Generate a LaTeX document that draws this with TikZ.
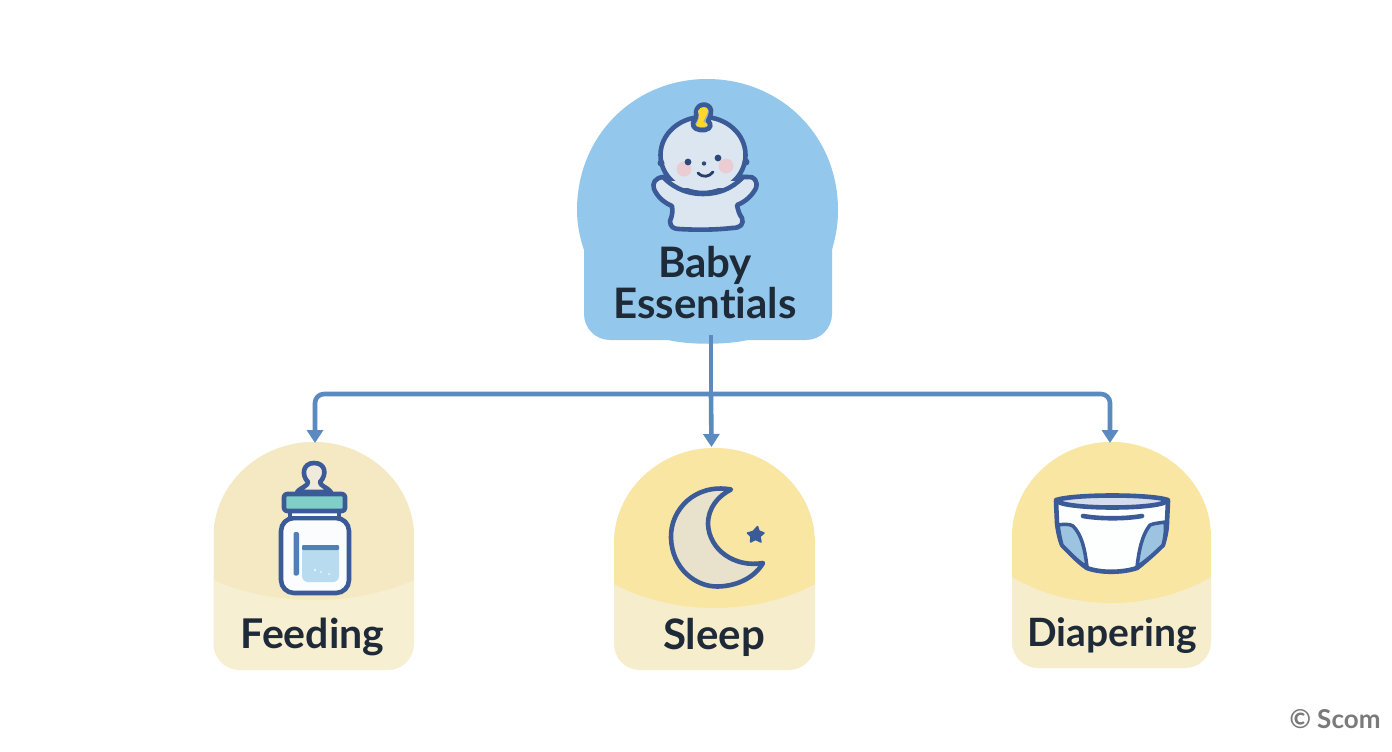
\documentclass[tikz,border=0pt]{standalone}
\usepackage{fontspec}
\setmainfont{Lato}[Ligatures=NoCommon]
\usetikzlibrary{arrows.meta}
\definecolor{hubblue}{HTML}{93C8EC}
\definecolor{linkblue}{HTML}{5A8ABF}
\definecolor{inkblue}{HTML}{3B5A98}
\definecolor{textdark}{HTML}{1E2A38}
\definecolor{skin}{HTML}{DCE6F0}
\definecolor{creamA}{HTML}{F5E9C3}
\definecolor{creamB}{HTML}{F7EFD2}
\definecolor{sunA}{HTML}{FAE6A3}
\definecolor{sunB}{HTML}{F6EDCC}
\definecolor{waterblue}{HTML}{B9DBF0}
\definecolor{midblue}{HTML}{4F80BA}
\definecolor{tealcap}{HTML}{7FCFC8}
\definecolor{moonfill}{HTML}{E8E1CB}
\definecolor{legblue}{HTML}{9CC3E0}
\definecolor{lav}{HTML}{D5DCEB}
\tikzset{
  link/.style={draw=linkblue,line width=4.6pt,rounded corners=9pt},
  linkarrow/.style={link,-{Triangle[width=16pt,length=13pt,inset=0pt]}},
  label/.style={text=textdark,align=center,inner sep=0pt},
  icon/.style={draw=inkblue,line width=4.6pt,line join=round,line cap=round},
}
% l r top bot edge centre colour-upper colour-lower
\newcommand{\domecard}[8]{%
  \pgfmathsetmacro{\cc}{(#1+#2)/2}%
  \pgfmathsetmacro{\hw}{(#2-#1)/2}%
  \pgfmathsetmacro{\sy}{#3+95}%
  \pgfmathsetmacro{\cya}{\sy-52}%
  \pgfmathsetmacro{\cxa}{\cc-0.55*\hw}%
  \pgfmathsetmacro{\cxb}{\cc+0.55*\hw}%
  \pgfmathsetmacro{\ctl}{(#6-0.25*#5)/0.75}%
  \pgfmathsetmacro{\cxl}{#1+0.3*(#2-#1)}%
  \pgfmathsetmacro{\cxr}{#1+0.7*(#2-#1)}%
  \def\cardoutline{(#1,\sy) .. controls (#1,\cya) and (\cxa,#3) .. (\cc,#3)
    .. controls (\cxb,#3) and (#2,\cya) .. (#2,\sy)
    [rounded corners=26pt] -- (#2,#4) -- (#1,#4) [sharp corners] -- cycle}%
  \fill[#8] \cardoutline;
  \begin{scope}
    \clip \cardoutline;
    \fill[#7] (#1,#3) rectangle (#2,#5);
    \fill[#7] (#1,#5) .. controls (\cxl,\ctl) and (\cxr,\ctl) .. (#2,#5) -- cycle;
  \end{scope}
}
\begin{document}
\begin{tikzpicture}[x=1pt,y=-1pt]
\useasboundingbox (0,0) rectangle (1392,752);
\fill[white] (0,0) rectangle (1392,752);

% ---------- hub ----------
\fill[hubblue] (584,250) [rounded corners=26pt] -- (584,340) [sharp corners]
  -- (668,340) .. controls (690,345) and (725,345) .. (748,340)
  [rounded corners=26pt] -- (832,340) [sharp corners] -- (832,250)
  .. controls (836,235) and (838,225) .. (838,210)
  .. controls (838,135) and (780,79) .. (707,79)
  .. controls (635,79) and (577,135) .. (577,210)
  .. controls (577,225) and (580,238) .. (584,250) -- cycle;

% baby
\filldraw[icon,fill=skin] (663,177) .. controls (655,178) and (652,183) .. (654,189)
  .. controls (658,198) and (665,203) .. (672,206)
  .. controls (673,212) and (672,216) .. (670,221)
  .. controls (670,227) and (674,229) .. (679,229)
  .. controls (695,230) and (715,230) .. (732,228)
  .. controls (741,228) and (744,224) .. (742,218)
  .. controls (739,214) and (738,210) .. (737,205)
  .. controls (745,202) and (752,196) .. (756,188)
  .. controls (758,181) and (754,176) .. (748,177) -- cycle;
\filldraw[icon,fill=skin] (703,155) ellipse [x radius=42.5pt,y radius=38pt];
\fill[inkblue] (661,163) circle (3.5pt) (746,162) circle (3.5pt);
\fill[skin] (661,181) rectangle (745,188);
\draw[icon] (664,178) .. controls (676,190) and (690,194) .. (703,194)
  .. controls (718,194) and (732,189) .. (743,177);
\filldraw[draw=inkblue,line width=4.6pt,fill=skin!60!inkblue,line join=round]
  (696,112) .. controls (697,103) and (709,102) .. (711,110)
  .. controls (711,115) and (710,118) .. (708,121)
  .. controls (712,124) and (711,129) .. (705,130)
  .. controls (698,131) and (692,128) .. (693,123)
  .. controls (695,120) and (697,116) .. (696,112) -- cycle;
\fill[yellow!70!orange!85!white] (698,111) .. controls (700,106) and (708,106) .. (708,111)
  .. controls (707,115) and (705,118) .. (703,122)
  .. controls (706,122) and (708,124) .. (707,126)
  .. controls (703,128) and (697,127) .. (696,125)
  .. controls (699,120) and (700,116) .. (698,111) -- cycle;
\fill[pink!55!lav] (684,169) circle (7.5pt) (726,166) circle (7.5pt);
\fill[inkblue!80!black] (688,162) circle (3.4pt) (718,158) circle (3.4pt) (704,163.5) circle (2.2pt);
\draw[inkblue!70!black,line width=2.8pt,line cap=round] (698,173) .. controls (703,178) and (709,177) .. (713,172);

\node[label,font=\fontsize{42}{41}\selectfont\bfseries] (hublabel) at (705,283) {Baby\\Essentials};

% ---------- cards ----------
\domecard{213.5}{414}{442}{670}{580}{600}{creamA}{creamB}
\domecard{614}{815}{448}{670}{584}{608}{sunA}{sunB}
\domecard{1012}{1211}{442}{668}{577}{603}{sunA}{sunB}

% ---------- connectors ----------
\coordinate (hubout) at (711,335);
\coordinate (busL) at (315,394);
\coordinate (busR) at (1110,394);
\coordinate (busM) at (711,394);
\coordinate (feedingtop) at (315,443);
\coordinate (sleeptop) at (711.5,447);
\coordinate (diaperingtop) at (1110,443);
\draw[link] (hubout) -- (busM);
\draw[linkarrow] (busM) -- (busL) -- (feedingtop);
\draw[linkarrow] (busM) -- (busR) -- (diaperingtop);
\draw[linkarrow,rounded corners=0pt] (busM) -- (sleeptop);

% ---------- bottle ----------
\filldraw[icon,fill=moonfill!70!white] (297,492) .. controls (303,486) and (308,486) .. (308,482)
  .. controls (301,475) and (303,463) .. (314,463)
  .. controls (326,463) and (327,475) .. (320,482)
  .. controls (320,486) and (327,487) .. (331,492) -- cycle;
\filldraw[icon,fill=white!90!skin,rounded corners=13pt] (281,518) rectangle (349,593);
\filldraw[icon,fill=white!90!skin] (290,511) rectangle (339,518);
\filldraw[icon,fill=tealcap,rounded corners=3pt] (284,494) rectangle (345,511);
\fill[midblue,rounded corners=2pt] (293.5,532) rectangle (299,575.5);
\fill[waterblue,rounded corners=6pt] (302,546) -- (302,582) -- (339,582) -- (339,546) -- cycle;
\fill[midblue,rounded corners=1pt] (302,545) rectangle (339,550);
\fill[white] (315,570) circle (1.2pt) (321,572) circle (.9pt) (329,574) circle (.9pt);

% ---------- moon ----------
\filldraw[icon,fill=moonfill] (731,489.5) .. controls (695,483) and (670,510) .. (671,538)
  .. controls (672,568) and (695,587) .. (718,586.5)
  .. controls (738,586) and (755,577) .. (763,563)
  .. controls (735,568) and (709,550) .. (708,524)
  .. controls (708,508) and (718,496) .. (731,489.5) -- cycle;
\filldraw[draw=inkblue,fill=inkblue,line width=1.5pt,line join=round]
  (757.5,526.5) -- (759,531) -- (764,533) -- (760,536.5) -- (761,542) -- (755.5,539.5) -- (750.5,542)
  -- (751,536.5) -- (747.5,533) -- (753,531.5) -- cycle;

% ---------- diaper ----------
\filldraw[icon,fill=white!94!skin] (1056,501) -- (1057,523) .. controls (1058,532) and (1060,540) .. (1062,545)
  .. controls (1070,553) and (1078,562) .. (1087,568)
  .. controls (1100,573) and (1122,573) .. (1137,568)
  .. controls (1146,561) and (1155,553) .. (1163,545)
  .. controls (1165,538) and (1167,530) .. (1167,522) -- (1168,501) -- cycle;
\filldraw[icon,fill=legblue,line width=3.5pt] (1058,525) .. controls (1064,524) and (1070,524) .. (1073,526)
  .. controls (1082,535) and (1085,550) .. (1087,567)
  .. controls (1078,562) and (1070,553) .. (1062,545) .. controls (1060,538) and (1059,532) .. (1058,525) -- cycle;
\filldraw[icon,fill=legblue,line width=3.5pt] (1165,522) .. controls (1160,523) and (1155,523) .. (1150,525)
  .. controls (1142,535) and (1139,550) .. (1137,567)
  .. controls (1146,561) and (1155,553) .. (1163,545) .. controls (1165,538) and (1166,530) .. (1165,522) -- cycle;
\draw[icon] (1083,516) .. controls (1100,519) and (1125,519) .. (1142,516);
\filldraw[icon,fill=lav] (1056,500) .. controls (1075,494) and (1150,494) .. (1168,500)
  .. controls (1165,510) and (1060,510) .. (1056,500) -- cycle;

% ---------- labels ----------
\node[label,font=\fontsize{41}{44}\selectfont\bfseries] (feedinglabel) at (312.5,637) {Feeding};
\node[label,font=\fontsize{42}{44}\selectfont\bfseries] (sleeplabel) at (714,637) {Sleep};
\node[label,font=\fontsize{39}{44}\selectfont\bfseries] (diaperinglabel) at (1112,636) {Diapering};
\node[font=\fontsize{26}{28}\selectfont\bfseries,text=black!52,inner sep=0pt] (copyright) at (1335,719) {© Scom};
\end{tikzpicture}
\end{document}
